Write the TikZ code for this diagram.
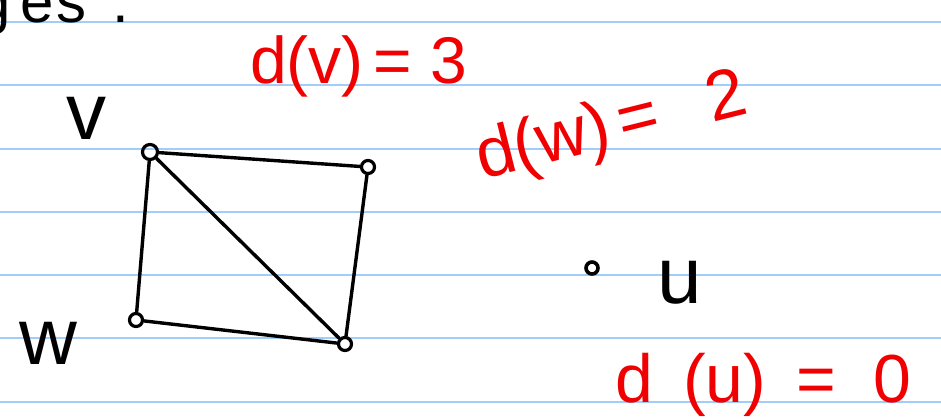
\documentclass[tikz,border=0pt]{standalone}
\usepackage{fontspec}
\setmainfont{Liberation Sans}
\definecolor{ruleblue}{RGB}{160,205,250}
\definecolor{inkred}{RGB}{240,0,0}
\begin{document}
\begin{tikzpicture}[x=1pt,y=-1pt,
  rule/.style={draw=ruleblue, line width=2pt},
  vtx/.style={circle, draw=black, line width=3.2pt, minimum size=13pt, inner sep=0pt},
  edge/.style={black, line width=3.4pt, line cap=round},
  letter/.style={inner sep=0pt, font=\fontsize{80}{80}\selectfont},
  redtxt/.style={inner sep=0pt, text=inkred, font=\fontsize{66}{66}\selectfont}]
\useasboundingbox (0,0) rectangle (941,418);
\clip (0,0) rectangle (941,418);
\fill[white] (0,0) rectangle (941,418);
\foreach \yy in {21.5,85,148.5,212,275,338.3,401.7}
  \draw[rule] (0,\yy) -- (941,\yy);
% top-left fragment
\node[inner sep=0pt, anchor=base west, font=\fontsize{60}{60}\selectfont] (frag) at (-23,22) {g\hspace{10pt}e\hspace{3pt}s\hspace{26pt}.};
% vertices
\node[vtx, minimum size=15pt] (v) at (150,152) {};
\node[vtx] (a) at (368,167) {};
\node[vtx] (w) at (136,320) {};
\node[vtx] (b) at (345,344) {};
\node[vtx, minimum size=12pt, line width=3.6pt] (u) at (592,268) {};
% edges
\draw[edge] (v) -- (a);
\draw[edge] (v) -- (w);
\draw[edge] (a) -- (b);
\draw[edge] (w) -- (b);
\draw[edge] (v) -- (b);
% vertex labels
\node[letter] (lv) at (86,118) {v};
\node[letter] (lw) at (48,343) {w};
\node[letter] (lu) at (680,283) {u};
% degree labels
\node[redtxt, anchor=base west] (dv) at (250,83) {d(v)\hspace{10pt}=\hspace{18pt}3};
\node[redtxt, anchor=base west, rotate=14, font=\fontsize{70}{70}\selectfont] (dw) at (482,180) {d(w)\hspace{10pt}=\hspace{50pt}2};
\node[redtxt, anchor=base west, font=\fontsize{68}{68}\selectfont] (du) at (615,402) {d\hspace{30pt}(u)\hspace{30pt}=\hspace{38pt}0};
\end{tikzpicture}
\end{document}
